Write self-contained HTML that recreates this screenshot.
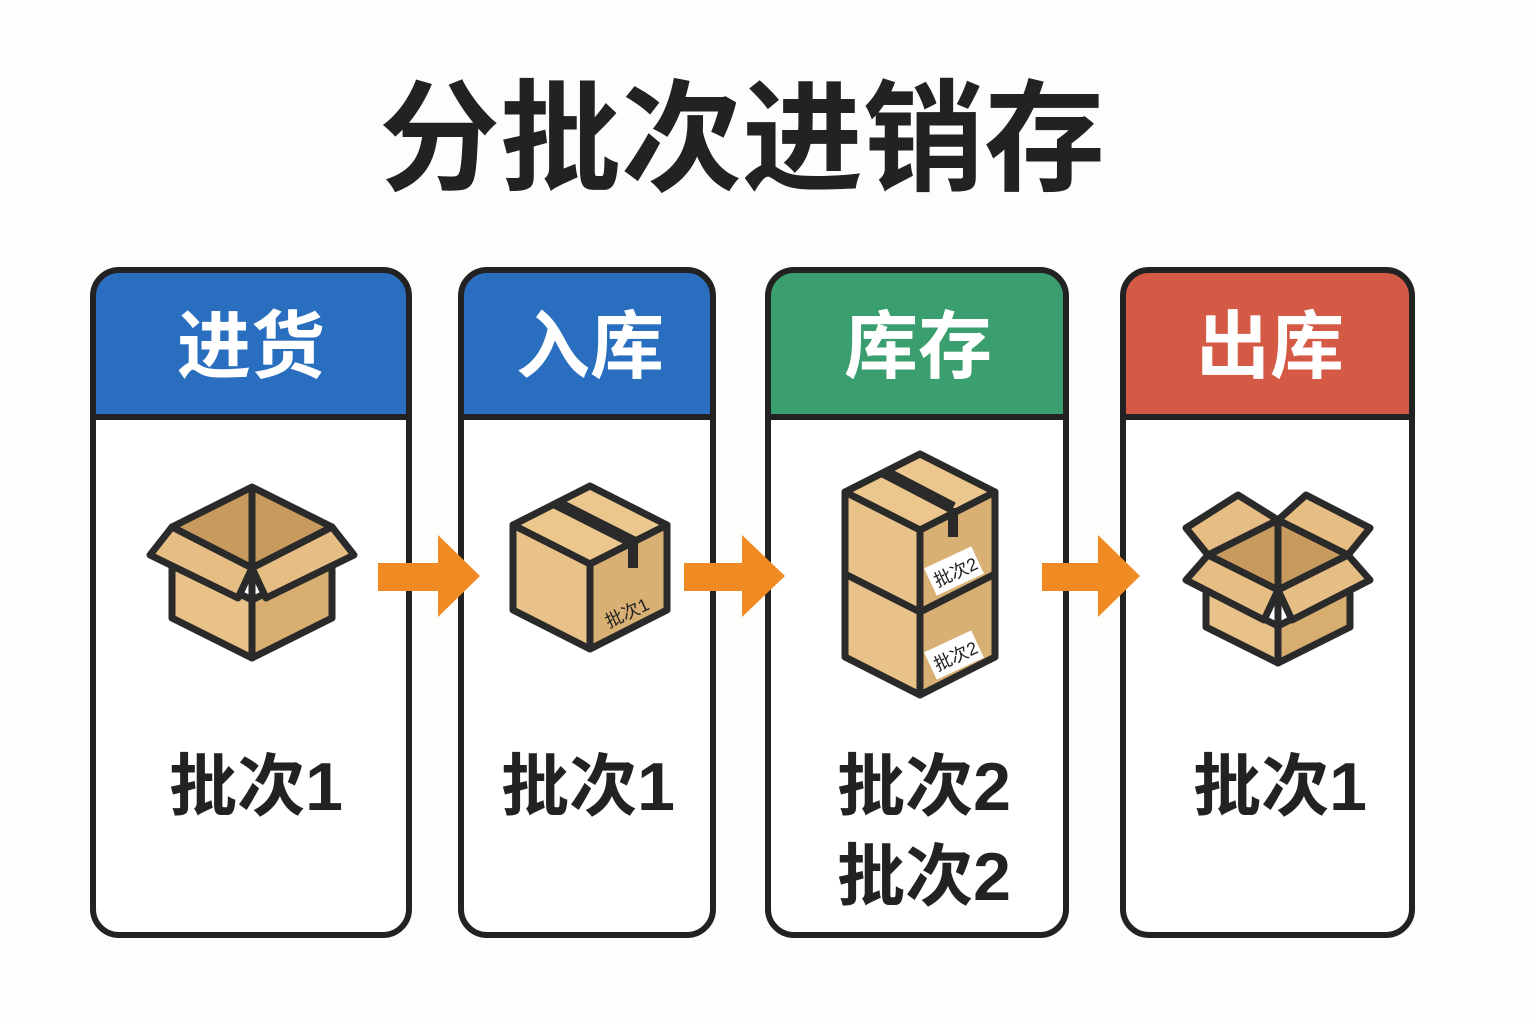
<!DOCTYPE html>
<html><head><meta charset="utf-8"><style>
body{margin:0;background:#fdfdfc;}
svg{display:block}
text{font-family:"Liberation Sans","Noto Sans CJK SC",sans-serif;font-weight:bold}
</style></head><body>
<svg width="1536" height="1024" viewBox="0 0 1536 1024" xmlns="http://www.w3.org/2000/svg">
<rect width="1536" height="1024" fill="#fdfdfc"/>
<text x="742" y="181" font-size="121" text-anchor="middle" fill="#222">分批次进销存</text>

<g stroke="#222" stroke-width="6">
<path d="M93,417 V296 a26,26 0 0 1 26,-26 H383 a26,26 0 0 1 26,26 V417 Z" fill="#2a6fbf"/>
<path d="M93,417 H409 V909 a26,26 0 0 1 -26,26 H119 a26,26 0 0 1 -26,-26 Z" fill="#fff"/>
<path d="M461,417 V296 a26,26 0 0 1 26,-26 H687 a26,26 0 0 1 26,26 V417 Z" fill="#2a6fbf"/>
<path d="M461,417 H713 V909 a26,26 0 0 1 -26,26 H487 a26,26 0 0 1 -26,-26 Z" fill="#fff"/>
<path d="M768,417 V296 a26,26 0 0 1 26,-26 H1040 a26,26 0 0 1 26,26 V417 Z" fill="#3a9e6e"/>
<path d="M768,417 H1066 V909 a26,26 0 0 1 -26,26 H794 a26,26 0 0 1 -26,-26 Z" fill="#fff"/>
<path d="M1123,417 V296 a26,26 0 0 1 26,-26 H1386 a26,26 0 0 1 26,26 V417 Z" fill="#d45a45"/>
<path d="M1123,417 H1412 V909 a26,26 0 0 1 -26,26 H1149 a26,26 0 0 1 -26,-26 Z" fill="#fff"/>
</g>
<g fill="#fff" font-size="74" text-anchor="middle">
<text x="251" y="372">进货</text>
<text x="590" y="372">入库</text>
<text x="918" y="372">库存</text>
<text x="1270" y="372">出库</text>
</g>
<g fill="#222" font-size="68" text-anchor="middle">
<text x="256" y="810">批次1</text>
<text x="588" y="810">批次1</text>
<text x="924" y="810">批次2</text>
<text x="924" y="900">批次2</text>
<text x="1280" y="810">批次1</text>
</g>

<g fill="#f08a22">
<path d="M378,563 H438 V535 L480,576 L438,617 V591 H378 Z"/>
<path d="M684,563 H742 V535 L785,576 L742,617 V591 H684 Z"/>
<path d="M1042,563 H1098 V535 L1140,576 L1098,617 V591 H1042 Z"/>
</g>

<g stroke="#2a2a2a" stroke-width="7" stroke-linejoin="round">
<path d="M252,487 L332,527 L252,568 L172,527 Z" fill="#c79a5e"/>
<path d="M172,560 L252,600 L252,658 L172,618 Z" fill="#e8c288"/>
<path d="M252,600 L332,560 L332,618 L252,658 Z" fill="#d7ad70"/>
<path d="M252,487 V568" fill="none"/>
<path d="M172,527 L150,555 L238,598 L252,568 Z" fill="#e6be84"/>
<path d="M332,527 L354,555 L266,598 L252,568 Z" fill="#e6be84"/>
<path d="M252,568 V658" fill="none"/>

<path d="M590,486 L667,525 L590,564 L513,525 Z" fill="#ebc78e"/>
<path d="M513,525 L590,564 V649 L513,610 Z" fill="#e8c288"/>
<path d="M590,564 L667,525 V610 L590,649 Z" fill="#d9b073"/>
<path d="M556,503 L633,542" fill="none" stroke-width="12"/>
<path d="M633,542 V568" fill="none" stroke-width="10"/>

<path d="M920,454 L995,492 L920,530 L845,492 Z" fill="#ebc78e"/>
<path d="M845,492 L920,530 V695 L845,657 Z" fill="#e8c288"/>
<path d="M920,530 L995,492 V657 L920,695 Z" fill="#d9b073"/>
<path d="M845,574 L920,612 L995,574" fill="none"/>
<path d="M884,472 L953,508" fill="none" stroke-width="12"/>
<path d="M953,508 V537" fill="none" stroke-width="10"/>

<path d="M1278,520 L1348,555 L1278,590 L1208,555 Z" fill="#c79a5e"/>
<path d="M1206,590 L1278,626 V663 L1206,627 Z" fill="#e8c288"/>
<path d="M1278,626 L1350,590 V627 L1278,663 Z" fill="#d7ad70"/>
<path d="M1208,555 L1186,528 L1238,495 L1278,520 Z" fill="#e6be84"/>
<path d="M1348,555 L1370,528 L1306,495 L1278,520 Z" fill="#e6be84"/>
<path d="M1208,555 L1186,580 L1264,620 L1278,590 Z" fill="#e6be84"/>
<path d="M1348,555 L1370,580 L1292,620 L1278,590 Z" fill="#e6be84"/>
<path d="M1278,520 V590 M1278,590 V663" fill="none"/>
</g>
<g font-size="18" fill="#222">
<text x="603" y="622" transform="rotate(-25 620 612)" style="font-weight:normal">批次1</text>
<rect x="928" y="556" width="52" height="30" fill="#fff" transform="rotate(-25 954 571)"/>
<text x="932" y="579" transform="rotate(-25 954 571)" style="font-weight:normal">批次2</text>
<rect x="928" y="640" width="52" height="30" fill="#fff" transform="rotate(-25 954 655)"/>
<text x="932" y="663" transform="rotate(-25 954 655)" style="font-weight:normal">批次2</text>
</g>
</svg>
</body></html>
